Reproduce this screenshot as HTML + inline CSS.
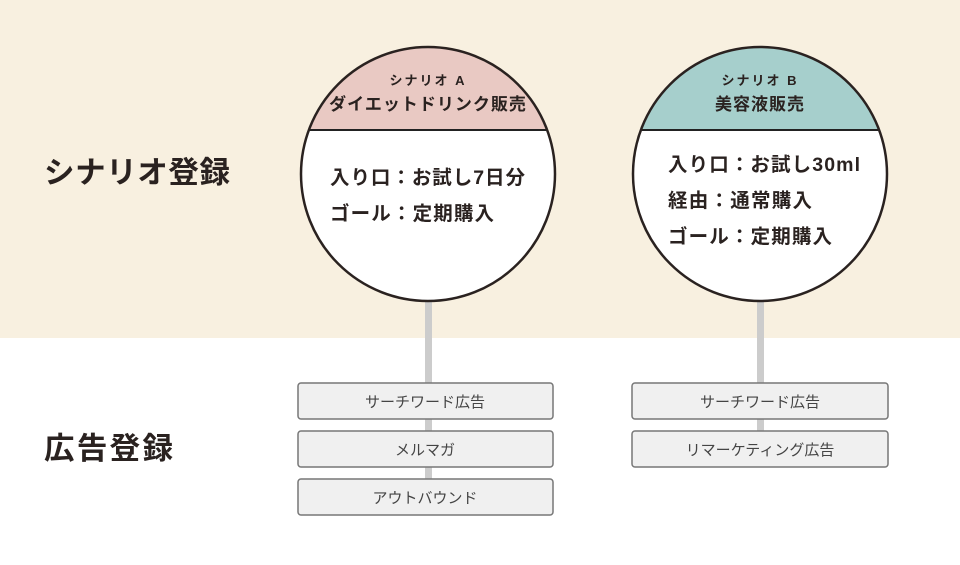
<!DOCTYPE html>
<html><head><meta charset="utf-8"><style>
body{margin:0;width:960px;height:560px;overflow:hidden;background:#fff}
svg text{font-family:"Liberation Sans","Noto Sans CJK JP",sans-serif}
</style></head><body>
<svg width="960" height="560" viewBox="0 0 960 560" xmlns="http://www.w3.org/2000/svg">
<defs>
<clipPath id="cA"><circle cx="428" cy="174" r="127"/></clipPath>
<clipPath id="cB"><circle cx="760" cy="174" r="127"/></clipPath>
</defs>
<rect x="0" y="0" width="960" height="338" fill="#f8f0e0"/>
<rect x="425" y="290" width="7" height="200" fill="#cccccc"/>
<rect x="757" y="290" width="7" height="160" fill="#cccccc"/>
<circle cx="428" cy="174" r="127" fill="#fff"/>
<rect x="290" y="40" width="280" height="90" fill="#e9c9c3" clip-path="url(#cA)"/>
<line x1="300" y1="130" x2="556" y2="130" stroke="#222" stroke-width="2" clip-path="url(#cA)"/>
<circle cx="428" cy="174" r="127" fill="none" stroke="#2a2220" stroke-width="2.5"/>
<circle cx="760" cy="174" r="127" fill="#fff"/>
<rect x="620" y="40" width="280" height="90" fill="#a6cfcc" clip-path="url(#cB)"/>
<line x1="632" y1="130" x2="888" y2="130" stroke="#222" stroke-width="2" clip-path="url(#cB)"/>
<circle cx="760" cy="174" r="127" fill="none" stroke="#2a2220" stroke-width="2.5"/>
<g fill="#2a2220" font-weight="bold" text-anchor="middle">
<text x="428" y="85" font-size="13" letter-spacing="2">シナリオ A</text>
<text x="428" y="110" font-size="17" letter-spacing="1">ダイエットドリンク販売</text>
<text x="760" y="85" font-size="13" letter-spacing="2">シナリオ B</text>
<text x="760" y="110" font-size="17" letter-spacing="1">美容液販売</text>
</g>
<g fill="#2a2220" font-weight="bold" font-size="19.5">
<text x="330" y="184" textLength="195" lengthAdjust="spacing">入り口：お試し7日分</text>
<text x="330" y="220" textLength="164" lengthAdjust="spacing">ゴール：定期購入</text>
<text x="668" y="171" textLength="192" lengthAdjust="spacing">入り口：お試し30ml</text>
<text x="668" y="207" textLength="144" lengthAdjust="spacing">経由：通常購入</text>
<text x="668" y="243" textLength="164" lengthAdjust="spacing">ゴール：定期購入</text>
<text x="44" y="183" font-size="30.5" textLength="186" lengthAdjust="spacing">シナリオ登録</text>
<text x="44" y="459" font-size="30.5" textLength="129" lengthAdjust="spacing">広告登録</text>
</g>
<g fill="#f0f0f0" stroke="#777" stroke-width="1.5">
<rect x="298" y="383" width="255" height="36" rx="3"/>
<rect x="298" y="431" width="255" height="36" rx="3"/>
<rect x="298" y="479" width="255" height="36" rx="3"/>
<rect x="632" y="383" width="256" height="36" rx="3"/>
<rect x="632" y="431" width="256" height="36" rx="3"/>
</g>
<g fill="#444" font-size="15" text-anchor="middle">
<text x="425" y="407">サーチワード広告</text>
<text x="425" y="455">メルマガ</text>
<text x="425" y="503">アウトバウンド</text>
<text x="760" y="407">サーチワード広告</text>
<text x="760" y="455">リマーケティング広告</text>
</g>
</svg>
</body></html>
